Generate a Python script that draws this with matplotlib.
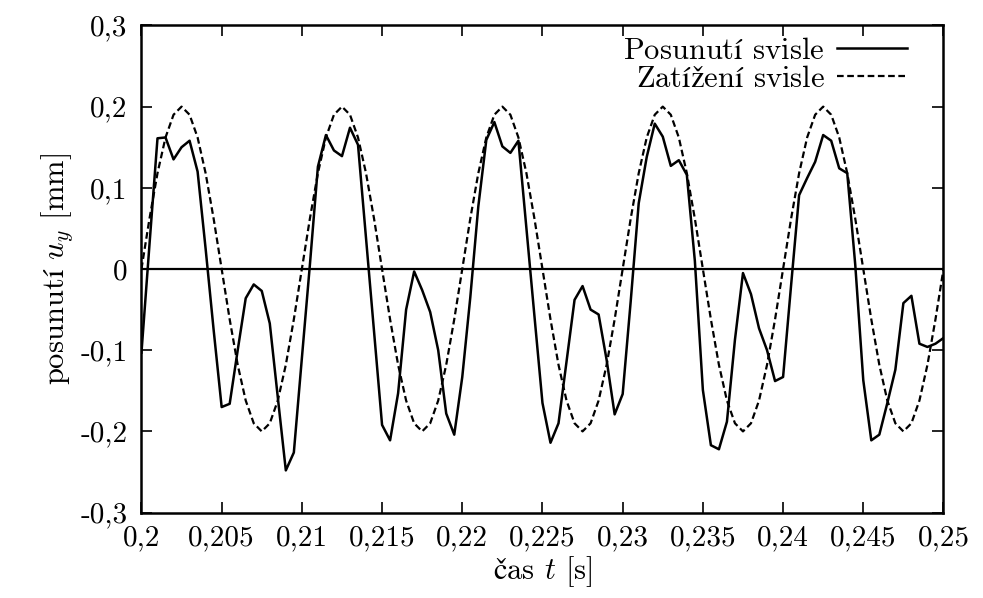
import numpy as np
import matplotlib
matplotlib.use("Agg")
import matplotlib.pyplot as plt

plt.rcParams['font.family'] = ['cmr10', 'DejaVu Serif']
plt.rcParams['mathtext.fontset'] = 'cm'
plt.rcParams['axes.unicode_minus'] = False

# time samples (s)
t = np.linspace(0.2, 0.25, 101)

posunuti = [
    -0.103, 0.030, 0.161, 0.162, 0.135, 0.150, 0.158, 0.120, 0.025, -0.075,
    -0.170, -0.166, -0.100, -0.036, -0.019, -0.027, -0.067, -0.158, -0.248, -0.226,
    -0.110, 0.005, 0.126, 0.165, 0.146, 0.139, 0.174, 0.153, 0.038, -0.077,
    -0.192, -0.211, -0.153, -0.050, -0.003, -0.026, -0.053, -0.100, -0.178, -0.204,
    -0.133, -0.035, 0.077, 0.159, 0.181, 0.151, 0.143, 0.158, 0.050, -0.058,
    -0.165, -0.214, -0.190, -0.114, -0.038, -0.021, -0.050, -0.056, -0.112, -0.179,
    -0.154, -0.040, 0.081, 0.138, 0.179, 0.163, 0.127, 0.134, 0.116, 0.010,
    -0.149, -0.217, -0.222, -0.188, -0.087, -0.005, -0.031, -0.073, -0.100, -0.138,
    -0.133, -0.020, 0.091, 0.112, 0.132, 0.165, 0.158, 0.124, 0.118, 0.005,
    -0.137, -0.211, -0.204, -0.165, -0.124, -0.042, -0.033, -0.092, -0.096, -0.092,
    -0.085,
]

zatizeni = [
    0.000, 0.062, 0.118, 0.162, 0.190, 0.200, 0.190, 0.162, 0.118, 0.062,
    0.000, -0.062, -0.118, -0.162, -0.190, -0.200, -0.190, -0.162, -0.118, -0.062,
    0.000, 0.062, 0.118, 0.162, 0.190, 0.200, 0.190, 0.162, 0.118, 0.062,
    0.000, -0.062, -0.118, -0.162, -0.190, -0.200, -0.190, -0.162, -0.118, -0.062,
    0.000, 0.062, 0.118, 0.162, 0.190, 0.200, 0.190, 0.162, 0.118, 0.062,
    0.000, -0.062, -0.118, -0.162, -0.190, -0.200, -0.190, -0.162, -0.118, -0.062,
    0.000, 0.062, 0.118, 0.162, 0.190, 0.200, 0.190, 0.162, 0.118, 0.062,
    0.000, -0.062, -0.118, -0.162, -0.190, -0.200, -0.190, -0.162, -0.118, -0.062,
    0.000, 0.062, 0.118, 0.162, 0.190, 0.200, 0.190, 0.162, 0.118, 0.062,
    0.000, -0.062, -0.118, -0.162, -0.190, -0.200, -0.190, -0.162, -0.118, -0.062,
    0.000,
]

xticks = [0.2, 0.205, 0.21, 0.215, 0.22, 0.225, 0.23, 0.235, 0.24, 0.245, 0.25]
xtick_labels = ["0,2", "0,205", "0,21", "0,215", "0,22", "0,225", "0,23",
                "0,235", "0,24", "0,245", "0,25"]
yticks = [-0.3, -0.2, -0.1, 0.0, 0.1, 0.2, 0.3]
ytick_labels = ["-0,3", "-0,2", "-0,1", "0", "0,1", "0,2", "0,3"]

# accented letters go through mathtext (upright, with fallback glyphs)
label_pos = r"Posunut$\mathrm{í}$ svisle"
label_zat = r"Zat$\mathrm{íž}$en$\mathrm{í}$ svisle"
xlabel = r"$\mathrm{č}$as $t$ [s]"
ylabel = r"posunut$\mathrm{í}$ $u_y$ [mm]"

FS = 21

fig = plt.figure(figsize=(9.83, 5.98), dpi=100)
ax = fig.add_axes([0.1439, 0.1428, 0.8159, 0.8147])

ax.axhline(0, color='black', lw=1.6, zorder=1)
ax.plot(t, posunuti, color='black', lw=1.8, label=label_pos, zorder=3)
ax.plot(t, zatizeni, color='black', lw=1.6, ls=(0, (3.0, 1.6)),
        label=label_zat, zorder=2)

ax.set_xlim(0.2, 0.25)
ax.set_ylim(-0.3, 0.3)
ax.set_xticks(xticks)
ax.set_xticklabels(xtick_labels)
ax.set_yticks(yticks)
ax.set_yticklabels(ytick_labels)
ax.tick_params(direction='in', length=8, width=1.2, top=True, right=True,
               labelsize=FS)
ax.tick_params(axis='x', pad=9)
ax.tick_params(axis='y', pad=10)
for s in ax.spines.values():
    s.set_linewidth(1.8)

ax.set_xlabel(xlabel, fontsize=22, labelpad=2)
ax.set_ylabel(ylabel, fontsize=22, labelpad=4)

leg = ax.legend(loc='upper right', frameon=False, markerfirst=False,
                fontsize=22, handlelength=2.3, handletextpad=0.4,
                labelspacing=0.0, borderaxespad=0.0,
                bbox_to_anchor=(0.97, 1.0))
for txt in leg.get_texts():
    txt.set_ha('right')

fig.savefig("out.png", dpi=100)
